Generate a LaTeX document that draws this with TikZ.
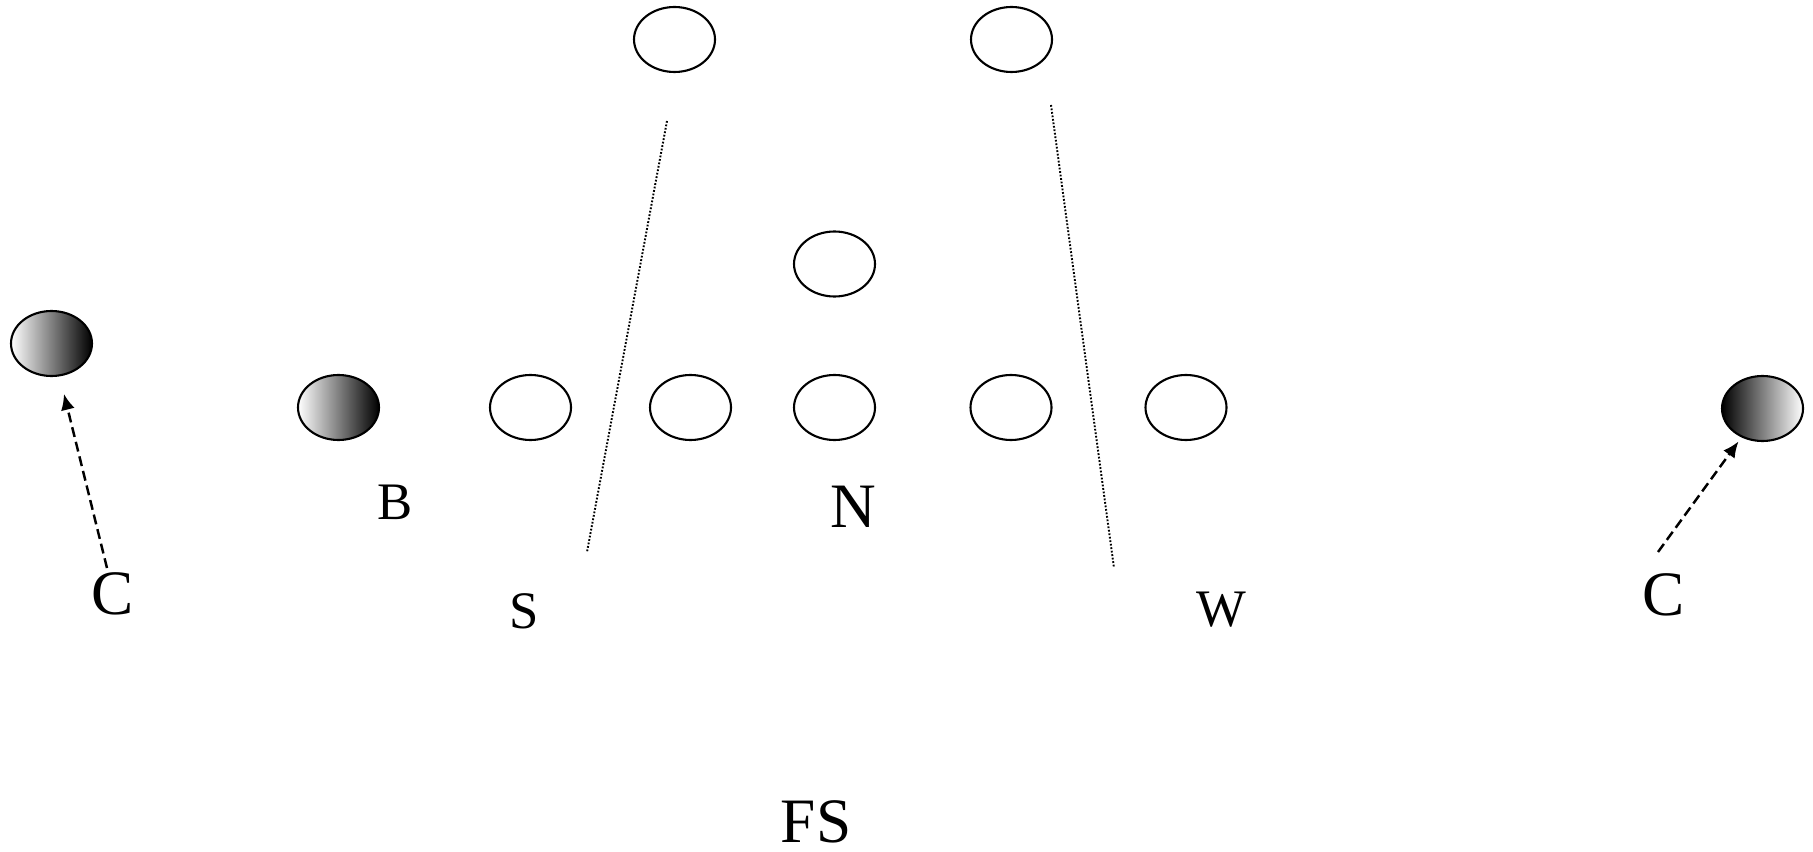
\documentclass[tikz,border=0pt]{standalone}
\usepackage{fontspec}
\setmainfont{Liberation Serif}
\usetikzlibrary{shapes.geometric,arrows.meta}

\begin{document}
\begin{tikzpicture}[
	player/.style={ellipse, draw, line width=0.6pt, inner sep=0pt, minimum width=0.81cm, minimum height=0.65cm},
	bigtag/.style={inner sep=0pt, font=\fontsize{18}{20}\selectfont},
	smalltag/.style={inner sep=0pt, font=\fontsize{15}{17}\selectfont},
	route/.style={line width=0.7pt, dash pattern=on 1mm off 0.5mm, -{Latex[length=1.6mm,width=1.4mm]}},
	gapline/.style={line width=0.55pt, dash pattern=on 0.5pt off 0.5pt}]
	\useasboundingbox (0,0) rectangle (18.13,-8.52);
	% deep players
	\node[player] (tl) at (6.745,-0.395) {};
	\node[player] (tr) at (10.115,-0.395) {};
	\node[player] (mid) at (8.345,-2.64) {};
	% front row
	\node[player, left color=white, right color=black] (b) at (3.385,-4.075) {};
	\node[player] (s) at (5.305,-4.075) {};
	\node[player] (sg) at (6.905,-4.075) {};
	\node[player] (n) at (8.345,-4.075) {};
	\node[player] (wg) at (10.11,-4.075) {};
	\node[player] (w) at (11.86,-4.075) {};
	% wide players
	\node[player, left color=white, right color=black] (lc) at (0.515,-3.435) {};
	\node[player, left color=black, right color=white] (rc) at (17.625,-4.085) {};
	% labels
	\node[bigtag] (cl) at (1.13,-5.94) {C};
	\node[bigtag] (cr) at (16.64,-5.95) {C};
	\node[smalltag] (bt) at (3.95,-5.02) {B};
	\node[smalltag] (st) at (5.24,-6.11) {S};
	\node[bigtag] (nt) at (8.53,-5.07) {N};
	\node[smalltag] (wt) at (12.21,-6.10) {W};
	\node[bigtag] (fs) at (8.16,-8.22) {FS};
	% gaps
	\coordinate (g1a) at (6.67,-1.21);
	\coordinate (g1b) at (5.87,-5.52);
	\coordinate (g2a) at (10.51,-1.05);
	\coordinate (g2b) at (11.14,-5.68);
	\draw[gapline] (g1a) -- (g1b);
	\draw[gapline] (g2a) -- (g2b);
	% routes
	\coordinate (cla) at (1.07,-5.68);
	\coordinate (cra) at (16.58,-5.52);
	\draw[route, shorten >=1.8mm] (cla) -- (lc);
	\draw[route, shorten >=0.5mm] (cra) -- (rc);
\end{tikzpicture}
\end{document}
